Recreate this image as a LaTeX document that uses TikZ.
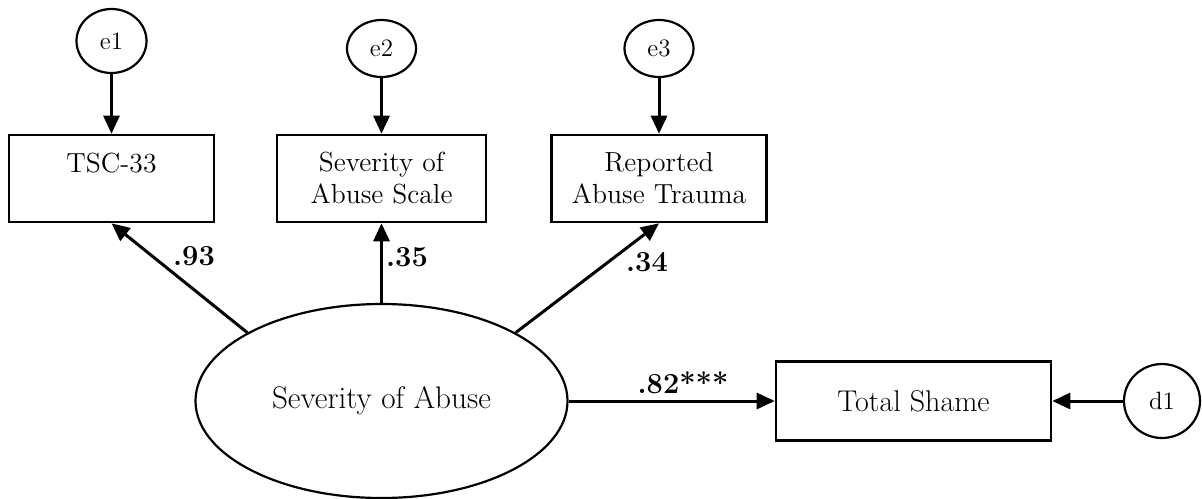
\documentclass[tikz,border=0pt]{standalone}
\usepackage{fontspec}
\usetikzlibrary{arrows.meta,shapes.geometric}
\begin{document}
\begin{tikzpicture}[x=0.5pt,y=-0.5pt,
  box/.style={draw,line width=1.3pt,rectangle,inner sep=0pt,align=center,font=\fontsize{13.8}{16}\selectfont},
  err/.style={draw,line width=1.1pt,ellipse,inner sep=0pt,font=\fontsize{12.5}{14}\selectfont},
  lat/.style={draw,line width=1.1pt,ellipse,inner sep=0pt,font=\fontsize{15.6}{18}\selectfont},
  conn/.style={line width=1.5pt,-{Triangle[length=9pt,width=8pt]}},
  coef/.style={font=\fontsize{14.5}{17}\selectfont\bfseries,inner sep=0pt}]
\useasboundingbox (0,0) rectangle (1202,498);
% observed variables
\node[box,minimum width=102.5pt,minimum height=43.5pt] (tsc) at (111.5,178.5) {TSC-33\\ \mbox{}};
\node[box,minimum width=104.5pt,minimum height=43.5pt] (scale) at (381.5,178.5) {Severity of\\Abuse Scale};
\node[box,minimum width=107.5pt,minimum height=43.5pt] (rep) at (659,178.5) {Reported\\Abuse Trauma};
\node[box,minimum width=137.5pt,minimum height=39.5pt,font=\fontsize{15}{18}\selectfont] (ts) at (913.5,401) {Total Shame};
% error terms
\node[err,minimum width=35pt,minimum height=32pt] (e1) at (111.5,41) {e1};
\node[err,minimum width=34.5pt,minimum height=28.5pt] (e2) at (381.5,48.5) {e2};
\node[err,minimum width=34.5pt,minimum height=28.5pt] (e3) at (659,48.5) {e3};
\node[err,minimum width=38pt,minimum height=37pt] (d1) at (1162,401) {d1};
% latent
\node[lat,minimum width=186pt,minimum height=97pt] (sev) at (381.5,401) {Severity of Abuse};
% connectors
\draw[conn] (e1.south) -- (tsc.north);
\draw[conn] (e2.south) -- (scale.north);
\draw[conn] (e3.south) -- (rep.north);
\draw[conn] (sev.153) -- (tsc.south);
\draw[conn] (sev.north) -- (scale.south);
\draw[conn] (sev.27) -- (rep.south);
\draw[conn] (sev.east) -- (ts.west);
\draw[conn] (d1.west) -- (ts.east);
% coefficients
\node[coef] (c1) at (194,256) {.93};
\node[coef] (c2) at (407,257) {.35};
\node[coef] (c3) at (647,262) {.34};
\node[coef] (c4) at (683,383) {.82***};
\end{tikzpicture}
\end{document}
